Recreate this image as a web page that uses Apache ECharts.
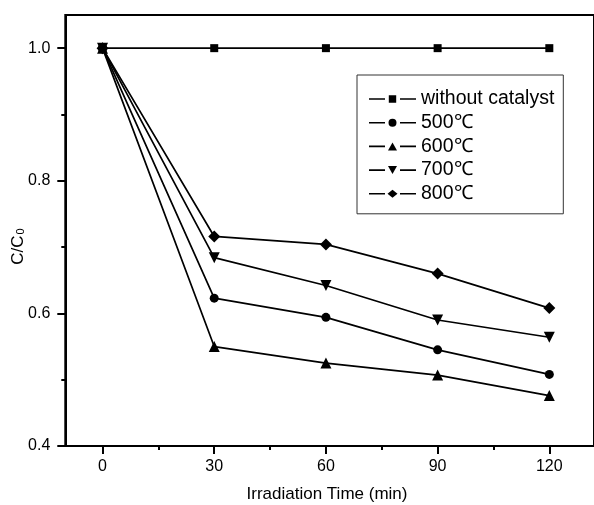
<!DOCTYPE html>
<html>
<head>
<meta charset="utf-8">
<script src="https://cdn.jsdelivr.net/npm/echarts@6/dist/echarts.min.js"></script>
<style>html,body{margin:0;padding:0;background:#fff;}#c{width:594px;height:505px;}</style>
</head>
<body>
<div id="c"></div>
<script>
// Data
const times = [0, 30, 60, 90, 120];
const seriesNames = ['without catalyst', '500\u2103', '600\u2103', '700\u2103', '800\u2103'];
const withoutCatalyst = [1.0, 1.0, 1.0, 1.0, 1.0];
const t500 = [1.0, 0.623, 0.594, 0.545, 0.508];
const t600 = [1.0, 0.550, 0.525, 0.507, 0.476];
const t700 = [1.0, 0.684, 0.642, 0.590, 0.564];
const t800 = [1.0, 0.716, 0.704, 0.660, 0.608];
const xMajorTicks = [0, 30, 60, 90, 120];
const xMinorTicks = [15, 45, 75, 105];
const yMajorTicks = [0.4, 0.6, 0.8, 1.0];
const yMinorTicks = [0.5, 0.7, 0.9];

const FONT = "'Liberation Sans', Arial, sans-serif";
const chart = echarts.init(document.getElementById('c'), null, {renderer: 'canvas'});

function mk(name, vals, symbol, size, rotate) {
  return {
    name: name, type: 'line', xAxisIndex: 0, yAxisIndex: 0,
    data: times.map((t, i) => [t, vals[i]]),
    symbol: symbol, symbolSize: size, symbolRotate: rotate || 0,
    showSymbol: true,
    itemStyle: {color: '#000'},
    lineStyle: {color: '#000', width: 1.7},
    emphasis: {disabled: true},
    animation: false
  };
}

// legend icons: dash - marker - dash, in a 47 x 8 box
const dashes = 'M0,3.2 L16,3.2 L16,4.8 L0,4.8 Z M31,3.2 L47,3.2 L47,4.8 L31,4.8 Z ';
const legendIcons = [
  'path://' + dashes + 'M19.8,0.3 L27.2,0.3 L27.2,7.7 L19.8,7.7 Z M0,0 L0,0 M47,8 L47,8',
  'path://' + dashes + 'M27.5,4 A4,4 0 1,1 19.5,4 A4,4 0 1,1 27.5,4 Z',
  'path://' + dashes + 'M23.5,0 L28,8 L19,8 Z',
  'path://' + dashes + 'M19,0 L28,0 L23.5,8 Z',
  'path://' + dashes + 'M23.5,0 L28.5,4 L23.5,8 L18.5,4 Z'
];

const xMin = -10, xMax = 132;
const yMin = 0.4, yMax = 1.05;

const option = {
  animation: false,
  backgroundColor: '#fff',
  textStyle: {fontFamily: FONT},
  grid: {left: 65.3, top: 15, bottom: 59, right: -10.5, show: true, borderColor: '#000', borderWidth: 2, containLabel: false},
  legend: {
    orient: 'vertical', left: 357, top: 75,
    borderColor: '#333', borderWidth: 1,
    padding: [14, 9, 10, 12],
    itemWidth: 47, itemHeight: 8, itemGap: 3.7,
    textStyle: {fontFamily: FONT, fontSize: 19.5, color: '#000', lineHeight: 20},
    data: seriesNames.map((n, i) => ({name: n, icon: legendIcons[i]})),
    itemStyle: {color: '#000', borderWidth: 0},
    selectedMode: false
  },
  xAxis: [
    {type: 'value', min: xMin, max: xMax, position: 'bottom',
     axisLine: {show: true, onZero: false, lineStyle: {color: '#000', width: 2}},
     axisTick: {show: true, customValues: xMajorTicks, length: 8, lineStyle: {color: '#000', width: 2}},
     axisLabel: {show: true, customValues: xMajorTicks, fontSize: 16, color: '#000', margin: 13, fontFamily: FONT},
     splitLine: {show: false}},
    {type: 'value', min: xMin, max: xMax, position: 'bottom',
     axisLine: {show: false, onZero: false},
     axisTick: {show: true, customValues: xMinorTicks, length: 4, lineStyle: {color: '#000', width: 2}},
     axisLabel: {show: false, customValues: xMinorTicks},
     splitLine: {show: false}}
  ],
  yAxis: [
    {type: 'value', min: yMin, max: yMax, position: 'left',
     axisLine: {show: true, onZero: false, lineStyle: {color: '#000', width: 2}},
     axisTick: {show: true, customValues: yMajorTicks, length: 8, lineStyle: {color: '#000', width: 2}},
     axisLabel: {show: true, customValues: yMajorTicks, fontSize: 16, color: '#000', margin: 15, fontFamily: FONT,
                 formatter: v => Number(v).toFixed(1)},
     splitLine: {show: false}},
    {type: 'value', min: yMin, max: yMax, position: 'left',
     axisLine: {show: false, onZero: false},
     axisTick: {show: true, customValues: yMinorTicks, length: 4, lineStyle: {color: '#000', width: 2}},
     axisLabel: {show: false, customValues: yMinorTicks},
     splitLine: {show: false}}
  ],
  graphic: [
    {type: 'text', x: 327, y: 494, silent: true,
     style: {text: 'Irradiation Time (min)', fontFamily: FONT, fontSize: 17, fill: '#000', align: 'center', verticalAlign: 'middle'}},
    {type: 'text', x: 18, y: 246.5, rotation: Math.PI / 2, silent: true,
     style: {text: '{a|C/C}{b|0}', fill: '#000', align: 'center', verticalAlign: 'middle',
             rich: {a: {fontFamily: FONT, fontSize: 17, fill: '#000'},
                    b: {fontFamily: FONT, fontSize: 11, fill: '#000', verticalAlign: 'bottom', padding: [6, 0, 0, 1]}}}}
  ],
  series: [
    mk(seriesNames[0], withoutCatalyst, 'rect', 8),
    mk(seriesNames[1], t500, 'circle', 9),
    mk(seriesNames[2], t600, 'triangle', 11),
    mk(seriesNames[3], t700, 'triangle', 11, 180),
    mk(seriesNames[4], t800, 'diamond', 12)
  ]
};
chart.setOption(option);
</script>
</body>
</html>
